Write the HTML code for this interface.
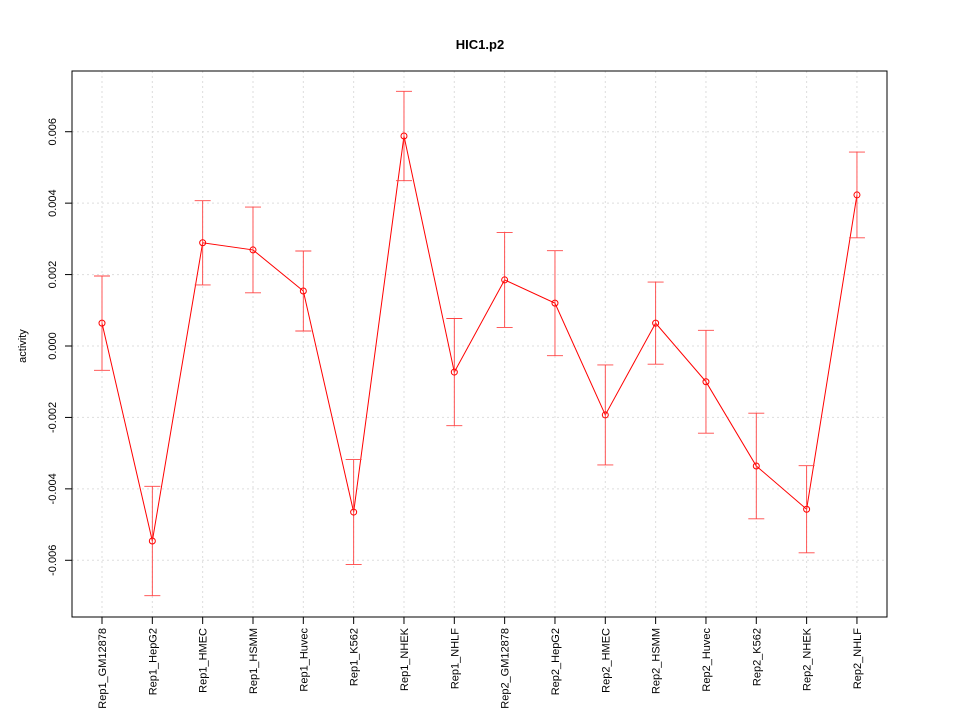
<!DOCTYPE html>
<html><head><meta charset="utf-8"><style>body{margin:0;background:#fff}svg{display:block}</style></head>
<body>
<svg id="chart" width="960" height="720" xmlns="http://www.w3.org/2000/svg" font-family="Liberation Sans, sans-serif">
<text x="480" y="49" text-anchor="middle" font-size="13" font-weight="bold">HIC1.p2</text>
<text transform="translate(26,346) rotate(-90)" text-anchor="middle" font-size="11">activity</text>
<g id="grid"></g>
<g id="marks"></g>
<g id="axes"></g>
<rect x="72" y="71" width="815" height="546" fill="none" stroke="#000"/>
</svg>
<script>
const categories = ["Rep1_GM12878","Rep1_HepG2","Rep1_HMEC","Rep1_HSMM","Rep1_Huvec","Rep1_K562","Rep1_NHEK","Rep1_NHLF","Rep2_GM12878","Rep2_HepG2","Rep2_HMEC","Rep2_HSMM","Rep2_Huvec","Rep2_K562","Rep2_NHEK","Rep2_NHLF"];
const values = [0.00064,-0.00546,0.00289,0.00269,0.00154,-0.00465,0.00588,-0.00073,0.00185,0.0012,-0.00193,0.00064,-0.001,-0.00336,-0.00457,0.00423];
const errors = [0.00132,0.00153,0.00118,0.0012,0.00112,0.00147,0.00125,0.0015,0.00133,0.00147,0.0014,0.00115,0.00144,0.00148,0.00122,0.0012];
const yTicks = [-0.006,-0.004,-0.002,0,0.002,0.004,0.006];
const yTickLabels = ["-0.006","-0.004","-0.002","0.000","0.002","0.004","0.006"];

const NS="http://www.w3.org/2000/svg";
const x = i => 102 + i*50.33;
const y = v => 346 - v*35714;
function mk(tag, parent, attrs){const e=document.createElementNS(NS,tag);for(const k in attrs)e.setAttribute(k,attrs[k]);document.getElementById(parent).appendChild(e);return e;}
categories.forEach((c,i)=>{
  const g=mk('line','grid',{x1:x(i),x2:x(i),y1:71,y2:617,stroke:'#ddd','stroke-dasharray':'2,3'});
  
  
  const t=mk('line','axes',{x1:x(i),x2:x(i),y1:617,y2:624,stroke:'#000'});
  
  
  const l=mk('text','axes',{transform:`translate(${x(i)+4},628) rotate(-90)`,'text-anchor':'end','font-size':'11'});
  l.textContent=c;
  
  
});
yTicks.forEach((v,i)=>{
  const g=mk('line','grid',{x1:72,x2:887,y1:y(v),y2:y(v),stroke:'#ddd','stroke-dasharray':'2,3'});
  
  
  const t=mk('line','axes',{x1:65,x2:72,y1:y(v),y2:y(v),stroke:'#000'});
  
  
  const l=mk('text','axes',{transform:`translate(56,${y(v)}) rotate(-90)`,'text-anchor':'middle','font-size':'11'});
  l.textContent=yTickLabels[i];
  
  
});
const pl=mk('polyline','marks',{points:values.map((v,i)=>x(i)+','+y(v)).join(' '),fill:'none',stroke:'#f00'});


values.forEach((v,i)=>{
  const cx=x(i),top=y(v+errors[i]),bot=y(v-errors[i]);
  const b=mk('path','marks',{d:`M${cx},${top}V${bot}M${cx-8},${top}H${cx+8}M${cx-8},${bot}H${cx+8}`,stroke:'#f44',fill:'none','stroke-width':'0.9'});
  
  
  const p=mk('circle','marks',{cx:cx,cy:y(v),r:3,fill:'none',stroke:'#f00'});
  
  
});
</script>
</body></html>
